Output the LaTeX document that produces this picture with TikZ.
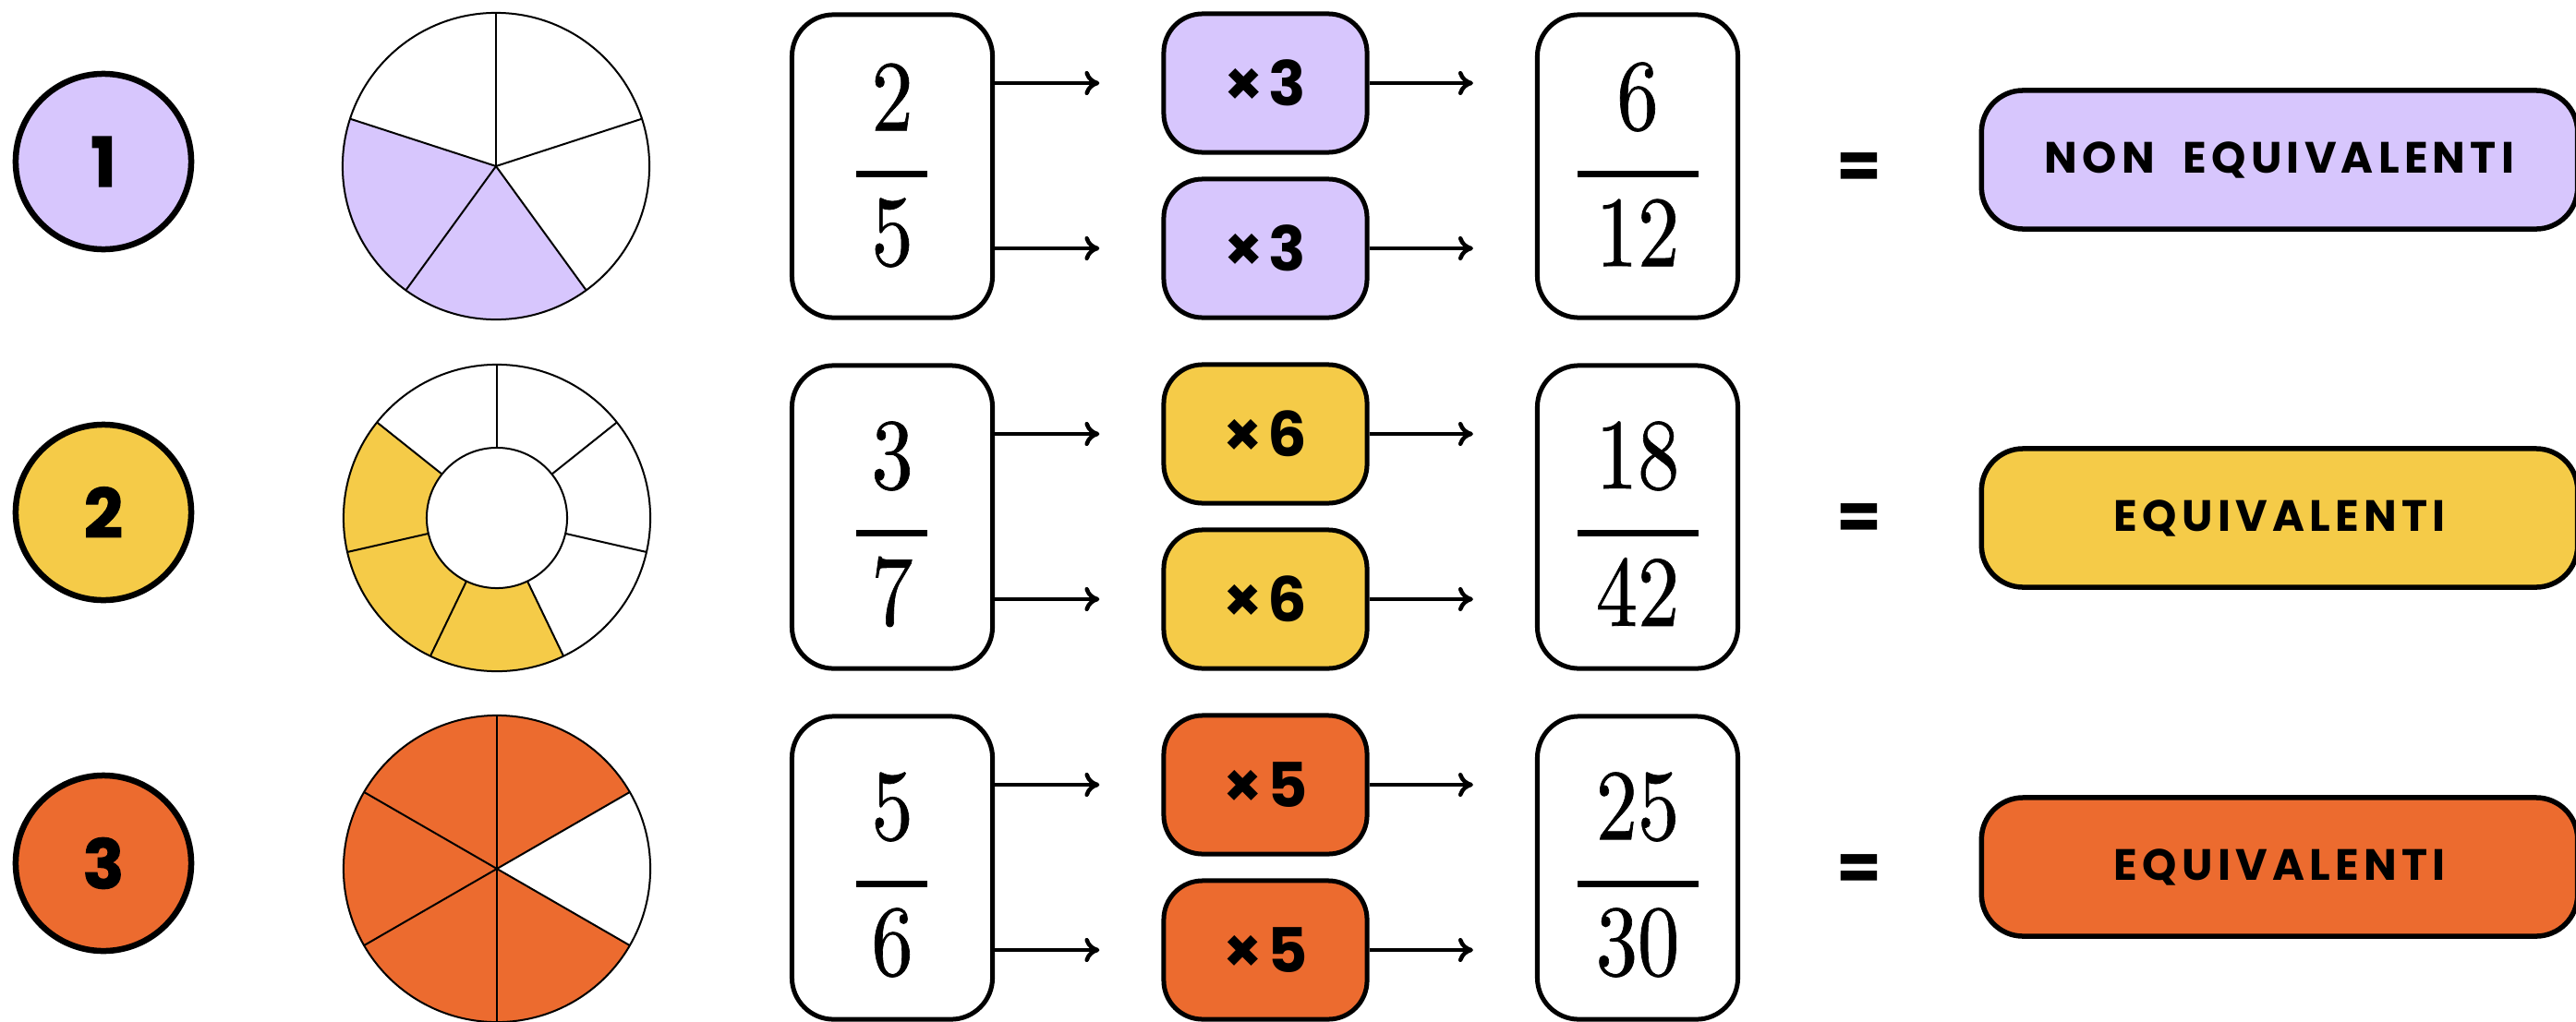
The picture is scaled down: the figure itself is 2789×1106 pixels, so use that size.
\documentclass[tikz,border=0pt]{standalone}
\usepackage{fontspec}
\newfontfamily\pop{Poppins}
\newfontfamily\popheavy{Poppins}[FakeBold=1.6]
\newfontfamily\popsp{Poppins}[LetterSpace=11]
\newfontfamily\lmten{lmroman10-regular.otf}[FakeBold=0.7]
\usetikzlibrary{arrows.meta}
\definecolor{cpurple}{RGB}{215,198,253}
\definecolor{cyellow}{RGB}{245,203,72}
\definecolor{corange}{RGB}{236,107,47}
\tikzset{
 badge/.style={circle, draw=black, line width=0.065cm, minimum size=1.90cm, inner sep=0pt, font=\popheavy\bfseries\fontsize{21}{21}\selectfont},
 fracbox/.style={draw=black, fill=white, line width=0.05cm, rounded corners=0.45cm, minimum width=2.17cm, minimum height=3.28cm, inner sep=0pt},
 multbox/.style={draw=black, line width=0.05cm, rounded corners=0.42cm, minimum width=2.20cm, minimum height=1.50cm, inner sep=0pt, font=\pop\bfseries\fontsize{19}{19}\selectfont},
 resbox/.style={draw=black, line width=0.055cm, rounded corners=0.45cm, minimum width=6.45cm, minimum height=1.50cm, inner sep=0pt, font=\popsp\bfseries\fontsize{13.5}{14}\selectfont},
 digits/.style={inner sep=0pt, font=\lmten\fontsize{31}{31}\selectfont, xscale=0.83},
 fbar/.style={line width=0.07cm},
 arr/.style={line width=0.045cm, -{To[length=0.16cm,width=0.26cm]}, shorten >=0.67cm},
 eqsign/.style={inner sep=0pt, font=\pop\bfseries\fontsize{20}{20}\selectfont},
 pieline/.style={line width=0.02cm},
}
\begin{document}
\begin{tikzpicture}[x=0.01cm, y=-0.01cm]
\useasboundingbox (0,0) rectangle (2789,1106);
\fill[white] (0,0) rectangle (2789,1106);
\foreach \i/\y/\col/\n/\d/\k/\rn/\rd/\res/\fs/\ps in {%
  1/180/cpurple/2/5/3/6/12/NON\ \ EQUIVALENTI/9/7,%
  2/560/cyellow/3/7/6/18/42/EQUIVALENTI/0/-1,%
  3/940/corange/5/6/5/25/30/EQUIVALENTI/0/1}{
  \node[badge, fill=\col] (b\i) at (112,{\y-5}) {\i};
  \node[fracbox] (f\i) at (966,\y) {};
  \node[digits] (fn\i) at (966,{\y-66-\fs}) {\n};
  \node[digits] (fd\i) at (966,{\y+81-\fs}) {\d};
  \draw[fbar] (927,{\y+17-\fs}) -- (1004,{\y+17-\fs});
  \node[multbox, fill=\col] (mu\i) at (1370,{\y-90}) {×\kern0.08em\k};
  \node[multbox, fill=\col] (ml\i) at (1370,{\y+89}) {×\kern0.08em\k};
  \node[fracbox] (r\i) at (1773,\y) {};
  \node[digits] (rn\i) at (1773,{\y-66-\fs}) {\rn};
  \node[digits] (rd\i) at (1773,{\y+81-\fs}) {\rd};
  \draw[fbar] (1708,{\y+17-\fs}) -- (1839,{\y+17-\fs});
  \draw[arr] (f\i.east |- mu\i) -- (mu\i);
  \draw[arr] (f\i.east |- ml\i) -- (ml\i);
  \draw[arr] (mu\i) -- (r\i.west |- mu\i);
  \draw[arr] (ml\i) -- (r\i.west |- ml\i);
  \node[eqsign] (e\i) at (2013,{\y+5}) {=};
  \node[resbox, fill=\col] (p\i) at (2468,{\y-\ps}) {\res};
}
% pie 1: 2/5
\begin{scope}[shift={(537,180)}, x=1cm, y=1cm]
  \fill[cpurple] (0,0) -- (162:1.66) arc[start angle=162, end angle=306, radius=1.66] -- cycle;
  \foreach \a in {90,18,-54,-126,162} \draw[pieline] (0,0) -- (\a:1.66);
  \draw[pieline] (0,0) circle[radius=1.66];
\end{scope}
% pie 2: 3/7 ring
\begin{scope}[shift={(538,561)}, x=1cm, y=1cm]
  \fill[cyellow] (141.4286:0.76) -- (141.4286:1.66) arc[start angle=141.4286, end angle=295.7143, radius=1.66] -- (295.7143:0.76) arc[start angle=295.7143, end angle=141.4286, radius=0.76] -- cycle;
  \foreach \k in {0,...,6} \draw[pieline] ({90-\k*360/7}:0.76) -- ({90-\k*360/7}:1.66);
  \draw[pieline] (0,0) circle[radius=1.66];
  \draw[pieline] (0,0) circle[radius=0.76];
\end{scope}
% pie 3: 5/6
\begin{scope}[shift={(538,941)}, x=1cm, y=1cm]
  \fill[corange] (0,0) -- (30:1.66) arc[start angle=30, end angle=330, radius=1.66] -- cycle;
  \foreach \a in {30,90,150,210,270,330} \draw[pieline] (0,0) -- (\a:1.66);
  \draw[pieline] (0,0) circle[radius=1.66];
\end{scope}
\end{tikzpicture}
\end{document}
